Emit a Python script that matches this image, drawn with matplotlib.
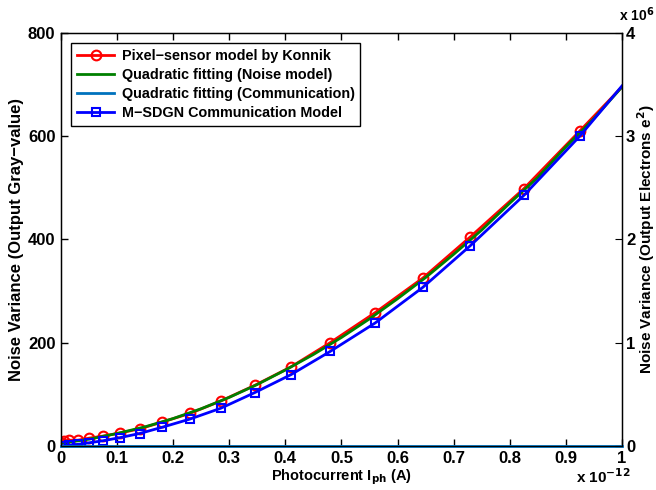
import numpy as np
import matplotlib
matplotlib.use('Agg')
import matplotlib.pyplot as plt

plt.rcParams['font.family'] = ['Liberation Sans', 'DejaVu Sans']
plt.rcParams['font.weight'] = 'bold'
plt.rcParams['font.size'] = 10

# photocurrent in units of 1e-12 A
x_pts = [0, 0.005, 0.015, 0.03, 0.05, 0.075, 0.105, 0.14, 0.18, 0.23, 0.285,
         0.345, 0.41, 0.48, 0.56, 0.645, 0.73, 0.825, 0.925, 1.0]
konnik = [5, 10, 11, 11, 15, 19, 25, 33, 46, 63, 87,
          117, 153, 200, 258, 325, 405, 498, 610, 695]
msdgn = [0, 0.5, 1.5, 3, 6, 10, 16, 24, 36, 52, 73,
         103, 138, 183, 238, 307, 388, 485, 600, 697]

x_fit = [0, 0.05, 0.1, 0.15, 0.2, 0.25, 0.3, 0.35, 0.4, 0.45, 0.5,
         0.55, 0.6, 0.65, 0.7, 0.75, 0.8, 0.85, 0.9, 0.95, 1.0]
fit_noise = [5, 13, 24, 37, 53, 72, 94, 119, 147, 177, 210,
             246, 285, 326, 371, 418, 470, 520, 579, 634, 695]
fit_comm = [0] * len(x_fit)

labels = ['Pixel\u2212sensor model by Konnik', 'Quadratic fitting (Noise model)',
          'Quadratic fitting (Communication)', 'M\u2212SDGN Communication Model']

fig = plt.figure(figsize=(6.56, 4.90), dpi=100)
ax = fig.add_axes([0.093, 0.09, 0.855, 0.843])

mk = list(range(len(x_pts) - 1))
ax.plot(x_pts, konnik, color='red', lw=2, marker='o', ms=7, mfc='none', mew=1.5,
        markevery=mk, label=labels[0])
ax.plot(x_fit, fit_noise, color=(0, 0.5, 0), lw=2, label=labels[1])
ax.plot(x_fit, fit_comm, color=(0, 0.447, 0.741), lw=2, label=labels[2],
        clip_on=False, zorder=3)
ax.plot(x_pts, msdgn, color='blue', lw=2, marker='s', ms=6, mfc='none', mew=1.5,
        markevery=mk, label=labels[3])

ax.set_xlim(0, 1)
ax.set_ylim(0, 800)
ax.set_xticks(np.arange(0, 1.01, 0.1))
ax.set_xticklabels(['0', '0.1', '0.2', '0.3', '0.4', '0.5', '0.6', '0.7', '0.8', '0.9', '1'])
ax.set_yticks([0, 200, 400, 600, 800])
ax.tick_params(direction='in', length=5, top=True, width=1, labelsize=12, pad=4)
ax.set_xlabel('Photocurrent I$_{\\mathbf{ph}}$ (A)', fontweight='bold', fontsize=10.5, labelpad=1)
ax.set_ylabel('Noise Variance (Output Gray\u2212value)', fontweight='bold', fontsize=12, labelpad=3)
for s in ax.spines.values():
    s.set_linewidth(1)

ax2 = ax.twinx()
ax2.set_ylim(0, 4)
ax2.set_yticks([0, 1, 2, 3, 4])
ax2.tick_params(direction='in', length=5, labelsize=12, pad=3)
ax2.set_ylabel('Noise Variance (Output Electrons e$^{\\mathbf{2}}$)', fontweight='bold',
               fontsize=11, labelpad=0)

fig.text(0.944, 0.95, 'x 10$^{\\mathbf{6}}$', ha='left', va='bottom', fontsize=10)
fig.text(0.878, 0.008, 'x 10$^{\\mathbf{-12}}$', ha='left', va='bottom', fontsize=11)

leg = ax.legend(loc='upper left', bbox_to_anchor=(0.005, 0.993), fancybox=False,
                edgecolor='black', framealpha=1, handlelength=2.6, fontsize=10.4,
                borderpad=0.4, labelspacing=0.36, handletextpad=0.5)
leg.get_frame().set_linewidth(1)

fig.savefig('out.png', dpi=100)
